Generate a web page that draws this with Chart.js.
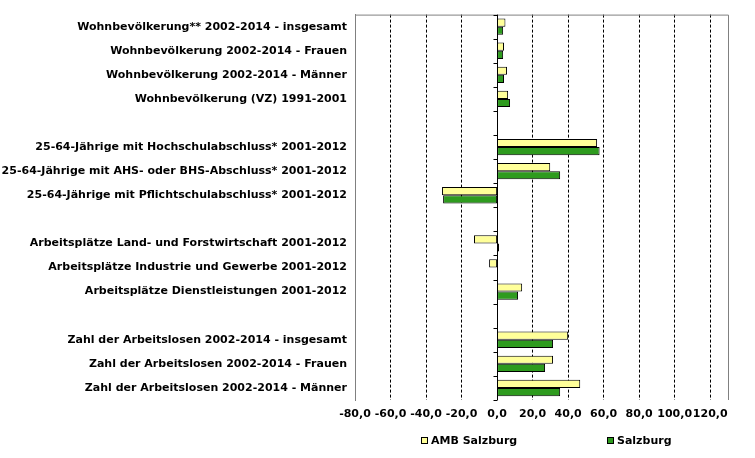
<!DOCTYPE html>
<html>
<head>
<meta charset="utf-8">
<script src="https://cdn.jsdelivr.net/npm/chart.js@4/dist/chart.umd.min.js"></script>
<style>
html,body{margin:0;padding:0;background:#fff;}
#wrap{width:755px;height:458px;position:relative;}
</style>
</head>
<body>
<div id="wrap"><canvas id="c"></canvas></div>
<script>
const categories = [
  "Wohnbevölkerung** 2002-2014 - insgesamt",
  "Wohnbevölkerung 2002-2014 - Frauen",
  "Wohnbevölkerung 2002-2014 - Männer",
  "Wohnbevölkerung (VZ) 1991-2001",
  "",
  "25-64-Jährige mit Hochschulabschluss* 2001-2012",
  "25-64-Jährige mit AHS- oder BHS-Abschluss* 2001-2012",
  "25-64-Jährige mit Pflichtschulabschluss* 2001-2012",
  "",
  "Arbeitsplätze Land- und Forstwirtschaft 2001-2012",
  "Arbeitsplätze Industrie und Gewerbe 2001-2012",
  "Arbeitsplätze Dienstleistungen 2001-2012",
  "",
  "Zahl der Arbeitslosen 2002-2014 - insgesamt",
  "Zahl der Arbeitslosen 2002-2014 - Frauen",
  "Zahl der Arbeitslosen 2002-2014 - Männer"
];
const seriesNames = ["AMB Salzburg", "Salzburg"];
const ambSalzburg = [4.7, 3.9, 5.6, 6.2, null, 56.3, 29.9, -31.0, null, -13.0, -4.5, 14.1, null, 40.0, 31.5, 46.8];
const salzburg    = [3.4, 3.4, 3.9, 7.3, null, 57.7, 35.5, -30.4, null, 1.1, 0.0, 11.8, null, 31.5, 27.0, 35.5];
const xMin = -80, xMax = 130, xStep = 20;

const FONT = "'DejaVu Sans', Verdana, sans-serif";

const framePlugin = {
  id: 'frame',
  afterDraw(chart) {
    const ctx = chart.ctx;
    const a = chart.chartArea;
    const xs = chart.scales.x, ys = chart.scales.y;
    ctx.save();
    ctx.strokeStyle = '#808080';
    ctx.lineWidth = 1;
    ctx.beginPath();
    ctx.moveTo(a.left, a.top + 0.5);
    ctx.lineTo(a.right + 0.5, a.top + 0.5);
    ctx.lineTo(a.right + 0.5, a.bottom);
    ctx.stroke();
    const x0 = Math.round(xs.getPixelForValue(0)) + 0.5;
    ctx.strokeStyle = '#000';
    ctx.beginPath();
    ctx.moveTo(x0, a.top);
    ctx.lineTo(x0, a.bottom);
    const n = categories.length;
    for (let i = 0; i <= n; i++) {
      const y = Math.round(ys.getPixelForValue(i - 0.5)) + 0.5;
      ctx.moveTo(x0 - 4, y);
      ctx.lineTo(x0, y);
    }
    ctx.stroke();
    ctx.font = "bold 11px " + FONT;
    ctx.textBaseline = 'middle';
    const ly = 441;
    const lx = [a.left + 66, a.left + 252];
    chart.data.datasets.forEach((ds, i) => {
      ctx.fillStyle = ds.backgroundColor;
      ctx.fillRect(lx[i], ly - 4, 7, 7);
      ctx.strokeStyle = '#000';
      ctx.strokeRect(lx[i] + 0.5, ly - 3.5, 6, 6);
      ctx.fillStyle = '#000';
      ctx.fillText(ds.label, lx[i] + 10, ly);
    });
    ctx.restore();
  }
};

new Chart(document.getElementById('c'), {
  type: 'bar',
  data: {
    labels: categories,
    datasets: [
      { label: seriesNames[0], data: ambSalzburg, backgroundColor: '#FFFF99', borderColor: '#000', borderWidth: 1, borderSkipped: false },
      { label: seriesNames[1], data: salzburg, backgroundColor: '#2E9B1E', borderColor: '#000', borderWidth: 1, borderSkipped: false }
    ]
  },
  options: {
    indexAxis: 'y',
    responsive: true,
    maintainAspectRatio: false,
    animation: false,
    events: [],
    layout: { padding: { left: 0, top: 12, right: 27, bottom: 0 } },
    datasets: { bar: { categoryPercentage: 0.68, barPercentage: 1.0 } },
    plugins: {
      legend: { display: false },
      tooltip: { enabled: false }
    },
    scales: {
      x: {
        type: 'linear',
        min: xMin,
        max: xMax,
        afterBuildTicks(scale) {
          scale.ticks = scale.ticks.filter(t => t.value <= 120);
        },
        afterFit(scale) { scale.height = 58; },
        ticks: {
          stepSize: xStep,
          includeBounds: false,
          padding: 8,
          autoSkip: false,
          maxRotation: 0,
          color: '#000',
          font: { family: FONT, size: 11, weight: 'bold' },
          callback: v => v.toFixed(1).replace('.', ',')
        },
        grid: {
          drawTicks: false,
          color: '#000',
          lineWidth: ctx => (ctx.tick && (ctx.tick.value === 0 || ctx.tick.value === xMin)) ? 0 : 1
        },
        border: { display: false, dash: [3, 2] }
      },
      y: {
        type: 'category',
        afterFit(scale) { scale.width = 355; },
        ticks: {
          padding: 8,
          color: '#000',
          autoSkip: false,
          font: { family: FONT, size: 11, weight: 'bold' }
        },
        grid: { display: false, drawTicks: false },
        border: { display: true, color: '#808080', width: 1 }
      }
    }
  },
  plugins: [framePlugin]
});
</script>
</body>
</html>
